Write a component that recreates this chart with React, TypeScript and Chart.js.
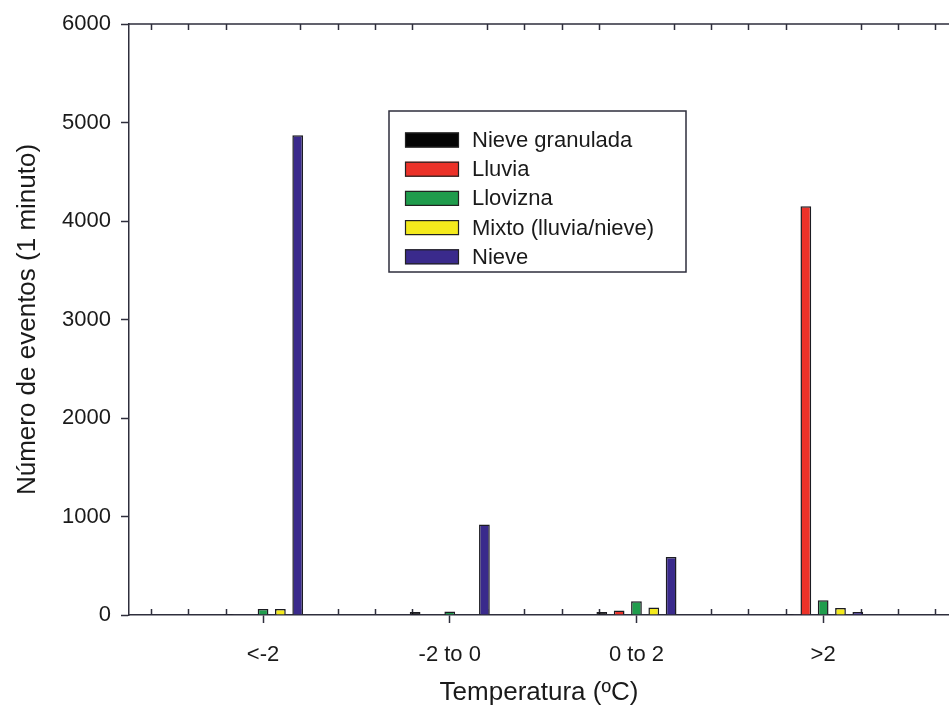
import React, { useEffect, useRef } from 'react';
import { Chart, registerables } from 'chart.js';

Chart.register(...registerables);

const categories = ['<-2', '-2 to 0', '0 to 2', '>2'];
const seriesNames = ['Nieve granulada', 'Lluvia', 'Llovizna', 'Mixto (lluvia/nieve)', 'Nieve'];
const nieveGranulada = [10, 30, 30, 10];
const lluvia = [0, 0, 45, 4150];
const llovizna = [60, 35, 140, 150];
const mixto = [60, 0, 75, 70];
const nieve = [4870, 920, 590, 30];
const yTicks = [0, 1000, 2000, 3000, 4000, 5000, 6000];
const xTitle = 'Temperatura (ºC)';
const yTitle = 'Número de eventos (1 minuto)';

const colors = ['#050505', '#ec3229', '#1f9c4c', '#f4ea1c', '#3a2a8c'];
const axisColor = '#2e2e3c';
const FONT = '"Liberation Sans", Arial, sans-serif';

const decorPlugin = {
  id: 'decor',
  beforeDatasetsDraw(chart: any) {
    const { ctx, chartArea: a, scales } = chart;
    const x = scales.x;
    ctx.save();
    ctx.strokeStyle = axisColor;
    ctx.lineWidth = 1.5;
    ctx.beginPath();
    ctx.moveTo(a.left, a.top);
    ctx.lineTo(a.right, a.top);
    for (let k = Math.ceil(x.min * 5); k <= Math.floor(x.max * 5); k++) {
      if (k % 5 === 0) continue;
      const px = Math.round(x.getPixelForValue(k / 5)) + 0.5;
      ctx.moveTo(px, a.bottom);
      ctx.lineTo(px, a.bottom - 6);
      ctx.moveTo(px, a.top);
      ctx.lineTo(px, a.top + 6);
    }
    ctx.stroke();
    ctx.restore();
  },
  afterDraw(chart: any) {
    const { ctx } = chart;
    const boxL = 389, boxT = 111, boxR = 686, boxB = 272;
    ctx.save();
    ctx.strokeStyle = axisColor;
    ctx.lineWidth = 1.5;
    ctx.fillStyle = '#ffffff';
    ctx.fillRect(boxL, boxT, boxR - boxL, boxB - boxT);
    ctx.strokeRect(boxL, boxT, boxR - boxL, boxB - boxT);
    ctx.font = `22px ${FONT}`;
    ctx.textBaseline = 'middle';
    chart.data.datasets.forEach((ds: any, i: number) => {
      const cy = 140 + i * 29.2;
      ctx.fillStyle = ds.backgroundColor;
      ctx.fillRect(405, cy - 7.5, 54, 15);
      ctx.lineWidth = 1.2;
      ctx.strokeStyle = '#222';
      ctx.strokeRect(405.5, cy - 7, 53, 14);
      ctx.fillStyle = '#1a1a1a';
      ctx.fillText(ds.label, 472, cy + 1);
    });
    ctx.restore();
  },
};

export default function App() {
  const ref = useRef<HTMLCanvasElement | null>(null);
  useEffect(() => {
    if (!ref.current) return;
    const series = [nieveGranulada, lluvia, llovizna, mixto, nieve];
    const chart = new Chart(ref.current, {
      type: 'bar',
      data: {
        datasets: series.map((vals, i) => ({
          label: seriesNames[i],
          data: vals.map((v, j) => ({ x: j + 1, y: v })),
          backgroundColor: colors[i],
          borderColor: '#1c1c22',
          borderWidth: 1.5,
          categoryPercentage: 0.464,
          barPercentage: 0.62,
        })),
      },
      options: {
        responsive: false,
        animation: false,
        devicePixelRatio: 1,
        layout: { padding: { left: 0, right: 0, top: 24, bottom: 0 } },
        plugins: { legend: { display: false }, tooltip: { enabled: false } },
        scales: {
          x: {
            type: 'linear',
            offset: false,
            min: 0.282,
            max: 4.674,
            afterFit: (s: any) => { s.height = 95; },
            border: { display: true, color: axisColor, width: 1.5 },
            grid: { display: true, offset: false, drawOnChartArea: false, drawTicks: true, tickLength: 8, tickColor: axisColor, tickWidth: 1.5 },
            ticks: {
              stepSize: 1,
              includeBounds: false,
              autoSkip: false,
              maxRotation: 0,
              padding: 19,
              color: '#1a1a1a',
              font: { family: FONT, size: 22 },
              callback: (v: any) => (Number.isInteger(v) && categories[v - 1] !== undefined ? categories[v - 1] : ''),
            },
            title: { display: true, text: xTitle, color: '#1a1a1a', font: { family: FONT, size: 26 }, padding: { top: 0, bottom: 2 } },
          },
          y: {
            type: 'linear',
            min: 0,
            max: 6000,
            afterFit: (s: any) => { s.width = 129; },
            afterBuildTicks: (s: any) => { s.ticks = yTicks.map((v) => ({ value: v })); },
            border: { display: true, color: axisColor, width: 1.5 },
            grid: { display: true, drawOnChartArea: false, drawTicks: true, tickLength: 8, tickColor: axisColor, tickWidth: 1.5 },
            ticks: { padding: 10, color: '#1a1a1a', font: { family: FONT, size: 22 }, callback: (v: any) => String(v) },
            title: { display: true, text: yTitle, color: '#1a1a1a', font: { family: FONT, size: 26 }, padding: { top: 12, bottom: 0 } },
          },
        },
      },
      plugins: [decorPlugin],
    });
    return () => chart.destroy();
  }, []);
  return (
    <div style={{ position: 'absolute', left: 0, top: 0, width: 949, height: 710, overflow: 'hidden', background: '#fff' }}>
      <canvas ref={ref} width={949} height={710} style={{ display: 'block' }} />
    </div>
  );
}
